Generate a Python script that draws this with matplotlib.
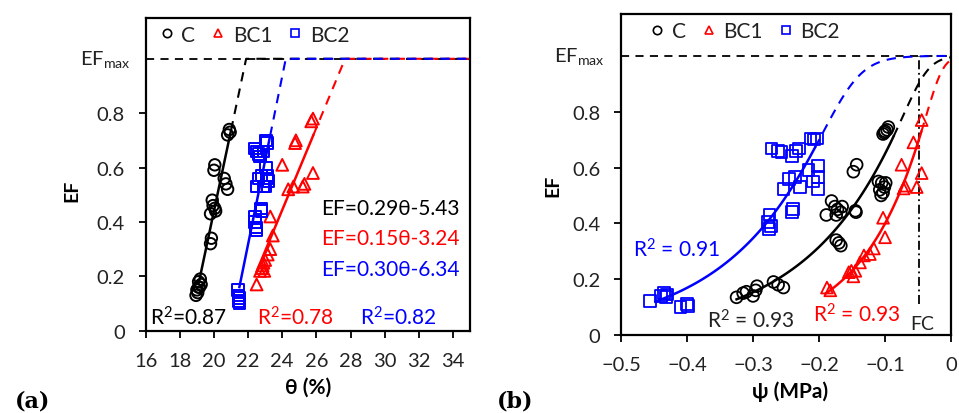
import numpy as np
import matplotlib
matplotlib.use("Agg")
import matplotlib.pyplot as plt
from matplotlib.lines import Line2D
from matplotlib import transforms

plt.rcParams['font.family'] = ['Lato', 'DejaVu Sans']
plt.rcParams['mathtext.default'] = 'regular'

# ---------------- data: panel (a) ----------------
c_theta = [18.95, 19.0, 19.05, 19.1, 19.1, 19.2, 19.25, 19.15,
           19.8, 19.85, 19.8, 19.9, 19.95, 20.05, 20.1, 20.0, 20.05,
           20.6, 20.7, 20.8, 20.8, 20.9, 20.95]
c_ef_a = [0.13, 0.15, 0.14, 0.16, 0.18, 0.19, 0.17, 0.16,
          0.32, 0.34, 0.43, 0.48, 0.46, 0.45, 0.44, 0.59, 0.61,
          0.56, 0.54, 0.52, 0.72, 0.74, 0.73]
bc1_theta = [22.5, 22.7, 22.8, 22.85, 22.9, 22.95, 23.0, 23.15, 23.3, 23.45, 23.3,
             24.0, 24.35, 24.65, 24.75, 24.8, 25.2, 25.3, 25.8, 25.7, 25.8]
bc1_ef_a = [0.17, 0.22, 0.23, 0.24, 0.25, 0.22, 0.26, 0.28, 0.30, 0.35, 0.42,
            0.61, 0.52, 0.53, 0.69, 0.70, 0.53, 0.54, 0.58, 0.77, 0.78]
bc2_theta = [21.4, 21.45, 21.5, 21.5, 21.45,
             22.4, 22.4, 22.45, 22.5, 22.8, 22.75,
             22.5, 22.6, 22.8, 23.0, 23.1, 23.05, 23.15, 22.9, 23.2,
             22.4, 22.5, 22.6, 22.7, 22.9, 23.05, 23.1]
bc2_ef_a = [0.15, 0.13, 0.12, 0.10, 0.11,
            0.42, 0.40, 0.38, 0.37, 0.44, 0.45,
            0.53, 0.56, 0.57, 0.53, 0.56, 0.60, 0.57, 0.53, 0.55,
            0.67, 0.66, 0.65, 0.64, 0.66, 0.70, 0.69]
# linear fits (slope, intercept, solid start, solid end) as drawn
lin_slope = [0.297, 0.151, 0.309]
lin_icpt = [-5.50, -3.18, -6.48]
lin_start = [19.1, 22.5, 21.49]
lin_end = [21.0, 25.82, 23.29]
eq_text = ['EF=0.29θ-5.43', 'EF=0.15θ-3.24', 'EF=0.30θ-6.34']
r2_a = ['0.87', '0.78', '0.82']

# ---------------- data: panel (b) ----------------
c_psi = [-0.325, -0.315, -0.31, -0.294, -0.296, -0.30, -0.269, -0.262, -0.254,
         -0.181, -0.176, -0.172, -0.174, -0.167, -0.165, -0.189,
         -0.174, -0.170, -0.167, -0.148, -0.143, -0.145, -0.144,
         -0.110, -0.105, -0.108, -0.101, -0.103, -0.106, -0.099,
         -0.103, -0.100, -0.097, -0.095, -0.101]
c_ef_b = [0.135, 0.15, 0.155, 0.175, 0.16, 0.14, 0.19, 0.18, 0.17,
          0.48, 0.46, 0.45, 0.43, 0.44, 0.46, 0.43,
          0.34, 0.33, 0.32, 0.585, 0.61, 0.445, 0.44,
          0.55, 0.545, 0.52, 0.53, 0.51, 0.50, 0.545,
          0.72, 0.73, 0.735, 0.745, 0.725]
bc1_psi = [-0.188, -0.183, -0.155, -0.151, -0.148, -0.145, -0.138, -0.132, -0.123, -0.117,
           -0.103, -0.100, -0.075, -0.072, -0.070, -0.057, -0.052, -0.0445, -0.0445]
bc1_ef_b = [0.17, 0.16, 0.225, 0.23, 0.21, 0.23, 0.26, 0.285, 0.29, 0.31,
            0.42, 0.35, 0.61, 0.525, 0.535, 0.69, 0.53, 0.58, 0.77]
bc2_psi = [-0.456, -0.44, -0.435, -0.43, -0.432, -0.41, -0.40, -0.398,
           -0.277, -0.276, -0.275, -0.273, -0.241, -0.240,
           -0.272, -0.262, -0.257, -0.241, -0.235, -0.23,
           -0.213, -0.208, -0.203,
           -0.254, -0.246, -0.236, -0.229, -0.216, -0.209, -0.201, -0.201, -0.201]
bc2_ef_b = [0.123, 0.14, 0.15, 0.145, 0.135, 0.10, 0.11, 0.105,
            0.405, 0.38, 0.43, 0.39, 0.44, 0.45,
            0.668, 0.66, 0.655, 0.64, 0.66, 0.668,
            0.704, 0.70, 0.704,
            0.524, 0.56, 0.565, 0.53, 0.59, 0.55, 0.605, 0.565, 0.524]
# exponential trend EF = a*exp(b*psi), softly capped at EFmax (cap sharpness n)
exp_a = [1.34, 1.2, 3.01]
exp_b = [7.23, 11.0, 7.2]
exp_n = [10, 10, 6]
exp_start = [-0.325, -0.19, -0.448]
exp_end = [-0.087, -0.045, -0.206]
r2_b = ['0.93', '0.93', '0.91']
fc_psi = -0.048

names = ['C', 'BC1', 'BC2']
colors = ['black', 'red', 'blue']
markers = ['o', '^', 's']

fig = plt.figure(figsize=(9.59, 4.14), dpi=100)
axa = fig.add_axes([0.1519, 0.1988, 0.3382, 0.7553])
axb = fig.add_axes([0.6476, 0.1884, 0.3441, 0.7754])

TICK_FS = 14.5
dash = (0, (4.5, 3.5))

def style_ax(ax):
    for s in ax.spines.values():
        s.set_linewidth(1.6)
    ax.tick_params(direction='out', length=5, width=1.3, labelsize=TICK_FS, pad=10,
                   colors='black', labelcolor='#222222')

# ---------- panel (a) ----------
ax = axa
style_ax(ax)
ax.set_xlim(16, 35)
ax.set_ylim(0, 1.15)
ax.axhline(1.0, color='black', lw=1.3, ls=dash, zorder=1)
xs_list = [c_theta, bc1_theta, bc2_theta]
ys_list = [c_ef_a, bc1_ef_a, bc2_ef_a]
for i in range(3):
    ax.scatter(xs_list[i], ys_list[i], marker=markers[i], s=68 if i != 1 else 72,
               facecolors='none', edgecolors=colors[i], linewidths=1.4, zorder=3)
    xx = np.linspace(lin_start[i], lin_end[i], 50)
    ax.plot(xx, lin_slope[i] * xx + lin_icpt[i], color=colors[i], lw=1.8, zorder=4)
    xcross = (1.0 - lin_icpt[i]) / lin_slope[i]
    xd = np.array([lin_end[i], xcross, 35])
    yd = np.array([lin_slope[i] * lin_end[i] + lin_icpt[i], 1.0, 1.0])
    ax.plot(xd, yd, color=colors[i], lw=1.5, ls=dash, zorder=2)
ax.set_xticks(np.arange(16, 35, 2))
ax.set_yticks([0, 0.2, 0.4, 0.6, 0.8])
ax.set_yticklabels(['0', '0.2', '0.4', '0.6', '0.8'])
ax.set_xlabel('θ (%)', fontsize=15, fontweight='bold')
ax.set_ylabel('EF', fontsize=14, fontweight='bold')
ax.yaxis.set_label_coords(-0.2, 0.45)
ax.xaxis.set_label_coords(0.5, -0.148)
trans = transforms.blended_transform_factory(ax.transAxes, ax.transData)
ax.text(-0.045, 1.0, r'EF$_{max}$', transform=trans, ha='right', va='center',
        fontsize=TICK_FS, color='#222222')
for i, ypos in zip(range(3), [0.45, 0.34, 0.227]):
    ax.text(34.4, ypos, eq_text[i], color=colors[i], fontsize=15, ha='right', va='center')
for i, xpos in zip(range(3), [16.25, 22.5, 28.55]):
    ax.text(xpos, 0.05, 'R$^2$=' + r2_a[i], color=colors[i], fontsize=15,
            ha='left', va='center')

# ---------- panel (b) ----------
ax = axb
style_ax(ax)
ax.set_xlim(-0.5, 0)
ax.set_ylim(0, 1.15)
ax.axhline(1.0, color='black', lw=1.3, ls=dash, zorder=1)
xs_list = [c_psi, bc1_psi, bc2_psi]
ys_list = [c_ef_b, bc1_ef_b, bc2_ef_b]

def trend(i, p):
    f = exp_a[i] * np.exp(exp_b[i] * p)
    return f / (1 + f ** exp_n[i]) ** (1.0 / exp_n[i])

for i in range(3):
    ax.scatter(xs_list[i], ys_list[i], marker=markers[i], s=72,
               facecolors='none', edgecolors=colors[i], linewidths=1.3, zorder=3)
    pp = np.linspace(exp_start[i], exp_end[i], 100)
    ax.plot(pp, trend(i, pp), color=colors[i], lw=1.8, zorder=4)
    pd_ = np.linspace(exp_end[i], 0, 100)
    ax.plot(pd_, trend(i, pd_), color=colors[i], lw=1.5, ls=dash, zorder=2)
ax.plot([fc_psi, fc_psi], [0.11, 1.0], color='black', lw=1.3, ls=(0, (5, 2, 1, 2)), zorder=2)
ax.text(fc_psi + 0.004, 0.04, 'FC', fontsize=14, ha='center', va='center', color='#222222')
ax.set_xticks([-0.5, -0.4, -0.3, -0.2, -0.1, 0])
ax.set_xticklabels(['\u22120.5', '\u22120.4', '\u22120.3', '\u22120.2', '\u22120.1', '0'])
ax.set_yticks([0, 0.2, 0.4, 0.6, 0.8])
ax.set_yticklabels(['0', '0.2', '0.4', '0.6', '0.8'])
ax.set_xlabel('ψ (MPa)', fontsize=15, fontweight='bold')
ax.set_ylabel('EF', fontsize=14, fontweight='bold')
ax.yaxis.set_label_coords(-0.182, 0.467)
ax.xaxis.set_label_coords(0.512, -0.14)
trans = transforms.blended_transform_factory(ax.transAxes, ax.transData)
ax.text(-0.05, 1.0, r'EF$_{max}$', transform=trans, ha='right', va='center',
        fontsize=TICK_FS, color='#222222')
ax.text(-0.482, 0.31, 'R$^2$ = ' + r2_b[2], color='blue', fontsize=15, ha='left', va='center')
ax.text(-0.37, 0.055, 'R$^2$ = ' + r2_b[0], color='#222222', fontsize=15, ha='left', va='center')
ax.text(-0.209, 0.075, 'R$^2$ = ' + r2_b[1], color='red', fontsize=15, ha='left', va='center')

# legends
for ax, cx in [(axa, 0.335), (axb, 0.375)]:
    handles = [Line2D([], [], ls='none', marker=markers[i], markersize=6,
                      markerfacecolor='none', markeredgecolor=colors[i], markeredgewidth=1.2)
               for i in range(3)]
    ax.legend(handles, names, ncol=3, loc='center', bbox_to_anchor=(cx, 0.947),
              frameon=False, fontsize=15, handlelength=0.7, handletextpad=0.35,
              columnspacing=0.75, borderaxespad=0, labelcolor='#222222')

fig.text(0.0156, 0.03, '(a)', fontsize=16, fontweight='bold', family='DejaVu Serif',
         ha='left', va='center')
fig.text(0.518, 0.03, '(b)', fontsize=16, fontweight='bold', family='DejaVu Serif',
         ha='left', va='center')

fig.savefig('out.png', dpi=100)
